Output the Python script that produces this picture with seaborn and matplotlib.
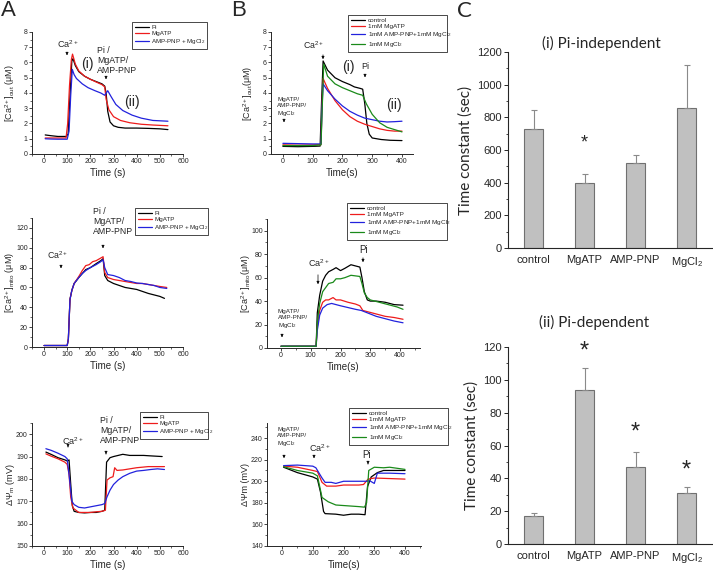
import numpy as np
import pandas as pd
import matplotlib
matplotlib.use('Agg')
import matplotlib.pyplot as plt
import seaborn as sns
from matplotlib.ticker import MultipleLocator, AutoMinorLocator
from matplotlib.patches import FancyArrowPatch

# ---------------- data ----------------
# A, top: [Ca2+]out (uM)
A1_PI_T = [5, 30, 60, 95, 104, 112, 120, 125, 135, 150, 175, 200, 225, 250, 262, 268, 275, 285, 300, 320, 350, 400, 450, 500, 535]
A1_PI = [1.25, 1.2, 1.15, 1.15, 1.3, 3.8, 6.1, 6.25, 5.8, 5.4, 5.1, 4.9, 4.75, 4.6, 4.45, 4.0, 2.8, 2.1, 1.85, 1.75, 1.7, 1.7, 1.68, 1.65, 1.6]
A1_ATP_T = [5, 30, 60, 95, 102, 110, 118, 123, 135, 150, 175, 200, 225, 250, 262, 268, 280, 300, 330, 370, 420, 470, 535]
A1_ATP = [1.05, 1.05, 1.05, 1.05, 2.0, 4.5, 6.2, 6.55, 5.9, 5.45, 5.1, 4.9, 4.72, 4.55, 4.4, 3.6, 2.9, 2.45, 2.2, 2.05, 1.95, 1.9, 1.85]
A1_PNP_T = [5, 30, 60, 100, 108, 115, 122, 130, 140, 165, 190, 220, 245, 262, 275, 290, 310, 340, 380, 420, 470, 535]
A1_PNP = [1.0, 0.98, 0.97, 0.97, 1.5, 3.8, 5.55, 5.2, 4.95, 4.6, 4.35, 4.15, 4.0, 3.85, 4.15, 3.75, 3.25, 2.85, 2.55, 2.35, 2.2, 2.15]

# A, middle: [Ca2+]mito (uM)
A2_PI_T = [0, 50, 100, 105, 112, 120, 130, 150, 165, 180, 200, 225, 245, 255, 262, 275, 300, 325, 350, 375, 400, 425, 450, 475, 500, 520]
A2_PI = [1.5, 1.5, 1.5, 8, 48, 57, 64, 70, 74, 78, 80, 84, 87, 89, 72, 67, 64, 62, 60, 59, 58, 56, 54, 52.5, 51, 49]
A2_ATP_T = [0, 50, 100, 105, 112, 120, 130, 150, 165, 180, 195, 210, 225, 240, 255, 262, 275, 300, 325, 350, 375, 400, 425, 450, 475, 500, 530]
A2_ATP = [1.5, 1.5, 1.5, 8, 48, 57, 64, 71, 77, 82, 83, 86, 87, 89, 91, 75, 70, 68, 67, 66, 65, 64, 64, 63, 62, 61, 60]
A2_PNP_T = [0, 50, 100, 105, 112, 120, 130, 150, 165, 180, 200, 225, 245, 255, 262, 275, 300, 325, 350, 375, 400, 425, 450, 475, 500, 530]
A2_PNP = [1.5, 1.5, 1.5, 8, 48, 57, 64, 70, 74, 77, 80, 83, 86, 88, 80, 73, 72, 70, 67, 66, 64.5, 64, 63, 62, 60, 59]

# A, bottom: membrane potential (mV)
A3_PI_T = [8, 30, 60, 90, 100, 108, 115, 122, 130, 150, 175, 200, 225, 250, 262, 270, 285, 300, 320, 340, 370, 400, 430, 460, 510]
A3_PI = [192, 191, 189.5, 188.5, 188, 188.5, 178, 168, 165.5, 165, 164.8, 165, 165, 165.5, 166, 187.5, 189.5, 190, 190.5, 191, 190.5, 190.5, 190.5, 190.3, 190]
A3_ATP_T = [8, 30, 60, 90, 100, 108, 115, 125, 150, 175, 200, 225, 250, 265, 272, 285, 298, 305, 315, 340, 370, 400, 450, 480, 520]
A3_ATP = [191.2, 190.2, 189, 187.5, 186.5, 182, 172, 167, 165, 165, 165, 165.3, 165.5, 166, 179.5, 180.5, 181, 185, 183.8, 184, 184.5, 185, 185.5, 185.5, 185.5]
A3_PNP_T = [8, 30, 60, 90, 100, 110, 120, 130, 150, 175, 200, 225, 250, 262, 272, 285, 300, 320, 340, 370, 400, 430, 460, 490, 520]
A3_PNP = [193.5, 192.8, 191.5, 190, 189, 180, 170, 168.5, 167.3, 167, 167.5, 168, 168.5, 169, 172, 175, 177.5, 179.5, 181, 182.5, 183.5, 183.8, 184.2, 184.5, 184.2]

# B, top
B1_CTL_T = [0, 50, 100, 125, 130, 135, 150, 175, 200, 225, 240, 260, 268, 275, 282, 290, 300, 330, 360, 400]
B1_CTL = [0.5, 0.48, 0.5, 0.52, 3.5, 6.1, 5.5, 5.0, 4.75, 4.55, 4.4, 4.3, 4.25, 3.3, 2.0, 1.3, 1.05, 0.95, 0.9, 0.88]
B1_ATP_T = [0, 50, 100, 128, 131, 135, 150, 175, 200, 225, 250, 275, 300, 325, 350, 375, 400]
B1_ATP = [0.6, 0.58, 0.6, 0.62, 3.0, 4.95, 4.3, 3.5, 2.9, 2.45, 2.15, 1.95, 1.8, 1.65, 1.55, 1.5, 1.5]
B1_PNP_T = [0, 50, 100, 128, 131, 135, 150, 175, 200, 225, 250, 275, 300, 325, 350, 375, 400]
B1_PNP = [0.7, 0.68, 0.66, 0.66, 2.8, 4.6, 4.15, 3.6, 3.15, 2.8, 2.55, 2.35, 2.25, 2.15, 2.1, 2.12, 2.15]
B1_MG_T = [0, 50, 100, 128, 132, 137, 150, 175, 200, 225, 250, 268, 280, 300, 325, 350, 375, 400]
B1_MG = [0.55, 0.55, 0.55, 0.6, 3.0, 5.9, 5.1, 4.6, 4.35, 4.15, 3.95, 3.85, 3.3, 2.6, 2.05, 1.75, 1.6, 1.45]

# B, middle
B2_CTL_T = [0, 50, 100, 118, 122, 130, 140, 150, 160, 175, 185, 200, 215, 235, 250, 265, 272, 280, 290, 300, 320, 350, 380, 410]
B2_CTL = [1.5, 1.5, 1.5, 1.5, 30, 45, 57, 62, 65, 67, 68.5, 66, 68, 71, 70, 69, 60, 48, 41, 40, 40, 39, 37, 36.5]
B2_ATP_T = [0, 50, 100, 118, 122, 130, 140, 150, 160, 175, 185, 200, 225, 250, 265, 275, 290, 320, 350, 380, 410]
B2_ATP = [1.5, 1.5, 1.5, 1.5, 18, 32, 39, 41, 41, 43, 41, 41, 39, 37.5, 36, 32, 31, 29, 27, 26, 24.5]
B2_PNP_T = [0, 50, 100, 118, 122, 130, 140, 155, 170, 185, 200, 225, 250, 270, 290, 320, 350, 380, 410]
B2_PNP = [1.5, 1.5, 1.5, 1.5, 15, 28, 34, 37, 38, 37, 36, 34.5, 33, 32, 30, 27, 25, 23, 21.5]
B2_MG_T = [0, 50, 100, 118, 122, 130, 140, 160, 175, 185, 200, 215, 235, 250, 265, 272, 280, 290, 300, 330, 360, 390, 410]
B2_MG = [1.5, 1.5, 1.5, 1.5, 22, 38, 48, 55, 56, 59, 59, 60, 62, 61.5, 61, 55, 47, 43, 41, 39, 37, 35, 33]

# B, bottom
B3_CTL_T = [5, 50, 100, 115, 125, 135, 140, 175, 200, 225, 250, 270, 278, 290, 310, 330, 360, 400]
B3_CTL = [213, 208, 204, 202, 190, 172, 170, 169.5, 168.5, 169.5, 169.5, 169, 195, 204, 208, 210, 210, 210]
B3_ATP_T = [5, 50, 100, 115, 130, 145, 175, 200, 250, 265, 280, 300, 400]
B3_ATP = [214, 213, 210, 209, 199, 195.5, 195.5, 196.5, 196.5, 197, 202, 203, 202]
B3_PNP_T = [5, 50, 100, 110, 130, 140, 160, 175, 200, 250, 275, 285, 300, 310, 350, 400]
B3_PNP = [214.5, 215, 214, 212.5, 203, 199, 199, 198, 200, 200, 200, 200.5, 198, 207.5, 207.5, 207]
B3_MG_T = [5, 50, 100, 115, 130, 150, 175, 200, 250, 268, 275, 282, 300, 330, 350, 400]
B3_MG = [213.5, 210, 207.5, 205, 185, 181, 178, 177.5, 176.5, 176, 180, 210, 213, 212.5, 213, 211]

A_LABELS = ['Pi', 'MgATP', 'AMP-PNP + MgCl$_2$']
B_LABELS = ['control', '1mM MgATP', '1mM AMP-PNP+1mM MgCl$_2$', '1mM MgCl$_2$']

# C: time constants
C_CATS = ['control', 'MgATP', 'AMP-PNP', 'MgCl$_2$']
TAU_I = [730, 400, 520, 860]
TAU_I_ERR = [115, 55, 52, 260]
TAU_II = [17, 94, 47, 31]
TAU_II_ERR = [1.8, 13, 9, 4]

# ---------------- style ----------------
sns.set_style('ticks')
plt.rcParams['font.family'] = ['Liberation Sans', 'DejaVu Sans']
plt.rcParams['mathtext.fontset'] = 'custom'
plt.rcParams['mathtext.rm'] = 'Liberation Sans'
plt.rcParams['mathtext.it'] = 'Liberation Sans:italic'
plt.rcParams['mathtext.bf'] = 'Liberation Sans:bold'

A_COLORS = ['black', '#ee1c1c', '#2222dd']
B_COLORS = ['black', '#ee1c1c', '#2222dd', '#1a8a1a']

W, H = 713, 572
fig = plt.figure(figsize=(W / 100, H / 100), dpi=100)


def fx(x):
    return x / W


def fy(y):
    return 1 - y / H


def rect(l, t, r, b):
    return [l / W, 1 - b / H, (r - l) / W, (b - t) / H]


def note(s, x, y, size=6.5, ha='center', va='center', **kw):
    fig.text(fx(x), fy(y), s, fontsize=size, ha=ha, va=va, **kw)


def arrow(x, y0, y1):
    fig.add_artist(FancyArrowPatch((fx(x), fy(y0)), (fx(x), fy(y1)),
                                   transform=fig.transFigure, arrowstyle='-|>',
                                   mutation_scale=4, lw=0.5, color='black'))


def line_panel(box, series, labels, colors, xlim, ylim, xstep, ystep,
               xlabel, ylabel, ylab_x, legbox, legsize):
    ax = fig.add_axes(rect(*box))
    frames = [pd.DataFrame({'t': t, 'v': v, 's': lab})
              for (t, v), lab in zip(series, labels)]
    df = pd.concat(frames, ignore_index=True)
    sns.lineplot(data=df, x='t', y='v', hue='s', hue_order=labels,
                 palette=dict(zip(labels, colors)), estimator=None, sort=False,
                 lw=0.9, legend=False, ax=ax)
    ax.set_xlim(xlim)
    ax.set_ylim(ylim)
    ax.xaxis.set_major_locator(MultipleLocator(xstep))
    ax.yaxis.set_major_locator(MultipleLocator(ystep))
    ax.xaxis.set_minor_locator(AutoMinorLocator(2))
    ax.yaxis.set_minor_locator(AutoMinorLocator(2))
    sns.despine(ax=ax)
    for sp in ax.spines.values():
        sp.set_linewidth(0.7)
    ax.tick_params(which='major', length=2, width=0.6, labelsize=5, pad=1)
    ax.tick_params(which='minor', length=1.2, width=0.5)
    ax.set_xlabel(xlabel, fontsize=7, labelpad=2)
    ax.set_ylabel(ylabel, fontsize=6.5)
    ax.yaxis.label.set_verticalalignment('center')
    ax.yaxis.set_label_coords((ylab_x - box[0]) / (box[2] - box[0]), 0.5)
    l, t, r, b = legbox
    leg = ax.legend(ax.lines[:len(labels)], labels, loc='upper left',
                    bbox_to_anchor=(fx(l), fy(b), (r - l) / W, (b - t) / H),
                    bbox_transform=fig.transFigure, mode='expand', borderaxespad=0,
                    fontsize=legsize, frameon=True, fancybox=False,
                    edgecolor='black', framealpha=1, handlelength=2.3,
                    handletextpad=0.4, borderpad=0.4, labelspacing=0.15)
    leg.get_frame().set_linewidth(0.5)
    return ax


def bar_panel(box, vals, errs, ylim, ystep, title, title_xy, stars):
    ax = fig.add_axes(rect(*box))
    sns.barplot(x=C_CATS, y=vals, color='#c0c0c0', saturation=1,
                edgecolor='#707070', linewidth=0.8, width=0.37,
                errorbar=None, ax=ax)
    ax.errorbar(np.arange(len(vals)), vals, yerr=[np.zeros(len(vals)), errs],
                fmt='none', ecolor='#8a8a8a', elinewidth=0.8, capsize=2, capthick=0.8)
    ax.set_xlim(-0.5, 3.5)
    ax.set_ylim(ylim)
    ax.yaxis.set_major_locator(MultipleLocator(ystep))
    ax.yaxis.set_minor_locator(AutoMinorLocator(2))
    sns.despine(ax=ax)
    for sp in ax.spines.values():
        sp.set_linewidth(0.8)
    ax.tick_params(axis='x', length=0, labelsize=8, pad=5)
    ax.tick_params(axis='y', which='major', length=3, width=0.7, labelsize=8, pad=1.5)
    ax.tick_params(axis='y', which='minor', length=1.5, width=0.6)
    ax.set_xlabel('')
    ax.set_ylabel('Time constant (sec)', fontsize=11, family='Lato', labelpad=3)
    note(title, title_xy[0], title_xy[1], 11, family='Lato')
    for i, y, s in stars:
        ax.text(i, y, '*', fontsize=s, ha='center', va='center')
    return ax


# ---------------- panel A ----------------
line_panel((32, 32, 183, 154),
           [(A1_PI_T, A1_PI), (A1_ATP_T, A1_ATP), (A1_PNP_T, A1_PNP)],
           A_LABELS, A_COLORS, (-52, 600), (0, 8), 100, 1,
           'Time (s)', '[Ca$^{2+}$]$_{\\mathrm{out}}$ (μM)', 10, (132, 22, 207, 47), 4.5)
line_panel((32, 218, 183, 347),
           [(A2_PI_T, A2_PI), (A2_ATP_T, A2_ATP), (A2_PNP_T, A2_PNP)],
           A_LABELS, A_COLORS, (-52, 600), (0, 130), 100, 20,
           'Time (s)', '[Ca$^{2+}$]$_{\\mathrm{mito}}$ (μM)', 10, (135, 208, 208, 233), 4.5)
line_panel((32, 423, 183, 546),
           [(A3_PI_T, A3_PI), (A3_ATP_T, A3_ATP), (A3_PNP_T, A3_PNP)],
           A_LABELS, A_COLORS, (-52, 600), (150, 205), 100, 10,
           'Time (s)', 'ΔΨ$_{\\mathrm{m}}$ (mV)', 10, (140, 412, 208, 437), 4.5)

# ---------------- panel B ----------------
line_panel((271, 32, 413, 154),
           [(B1_CTL_T, B1_CTL), (B1_ATP_T, B1_ATP), (B1_PNP_T, B1_PNP), (B1_MG_T, B1_MG)],
           B_LABELS, B_COLORS, (-40, 437), (0, 8), 100, 1,
           'Time(s)', '[Ca$^{2+}$]$_{\\mathrm{out}}$(μM)', 248, (348, 15, 447, 50), 4.6)
line_panel((267, 219, 420, 348),
           [(B2_CTL_T, B2_CTL), (B2_ATP_T, B2_ATP), (B2_PNP_T, B2_PNP), (B2_MG_T, B2_MG)],
           B_LABELS, B_COLORS, (-47, 467), (0, 110), 100, 20,
           'Time(s)', '[Ca$^{2+}$]$_{\\mathrm{mito}}$(μM)', 246, (347, 203, 447, 239), 4.6)
line_panel((267, 423, 421, 546),
           [(B3_CTL_T, B3_CTL), (B3_ATP_T, B3_ATP), (B3_PNP_T, B3_PNP), (B3_MG_T, B3_MG)],
           B_LABELS, B_COLORS, (-49, 452), (140, 254), 100, 20,
           'Time(s)', 'ΔΨm (mV)', 246, (349, 408, 448, 445), 4.6)

# ---------------- panel C ----------------
bar_panel((508, 52, 712, 248), TAU_I, TAU_I_ERR, (0, 1200), 200,
          '(i) Pi-independent', (601, 43), [(1, 640, 13)])
bar_panel((508, 347, 712, 544), TAU_II, TAU_II_ERR, (0, 120), 20,
          '(ii) Pi-dependent', (594, 322), [(1, 117, 17), (2, 68, 17), (3, 45, 17)])

# ---------------- annotations ----------------
note('A', 1, 10, 16, ha='left')
note('B', 231, 10, 16, ha='left')
note('C', 457, 11, 16, ha='left', family='Lato')

pi_add = 'Pi /\nMgATP/\nAMP-PNP'
b_add = 'MgATP/\nAMP-PNP/\nMgCl$_2$'

note('Ca$^{2+}$', 68, 44, 6.5)
arrow(67, 51, 58)
note('(i)', 87.5, 64.5, 10)
note(pi_add, 97, 46, 6.3, ha='left', va='top', linespacing=1.15)
arrow(106, 75, 82)
note('(ii)', 131.5, 101.5, 10)

note('Ca$^{2+}$', 57.5, 255, 6.3)
arrow(61, 264, 271)
note(pi_add, 93, 207, 6.3, ha='left', va='top', linespacing=1.15)
arrow(103, 244, 251)

note('Ca$^{2+}$', 73, 441, 6.5)
arrow(68, 444, 450)
note(pi_add, 100, 416, 6.3, ha='left', va='top', linespacing=1.15)
arrow(106, 451, 457)

note('Ca$^{2+}$', 314, 45, 6.3)
arrow(323, 52, 62)
note('(i)', 348.5, 67.5, 10)
note('Pi', 365, 66.5, 6.5)
arrow(365, 73, 80)
note('(ii)', 393.5, 105, 10)
note(b_add, 277, 97, 4.5, ha='left', va='top', linespacing=1.15)
arrow(284, 118, 125)

note('Ca$^{2+}$', 318.5, 263.5, 6.5)
arrow(318, 272, 287)
note('Pi', 363.5, 250, 7)
arrow(363, 255, 265)
note(b_add, 278, 309, 4.5, ha='left', va='top', linespacing=1.15)
arrow(282, 333, 340)

note(b_add, 277, 427, 4.5, ha='left', va='top', linespacing=1.15)
arrow(284, 453, 461)
note('Ca$^{2+}$', 319.5, 448.5, 6.5)
arrow(314, 454, 461)
note('Pi', 366.5, 455, 7)
arrow(368, 461, 467)

fig.savefig('out.png', dpi=100, facecolor='white')
